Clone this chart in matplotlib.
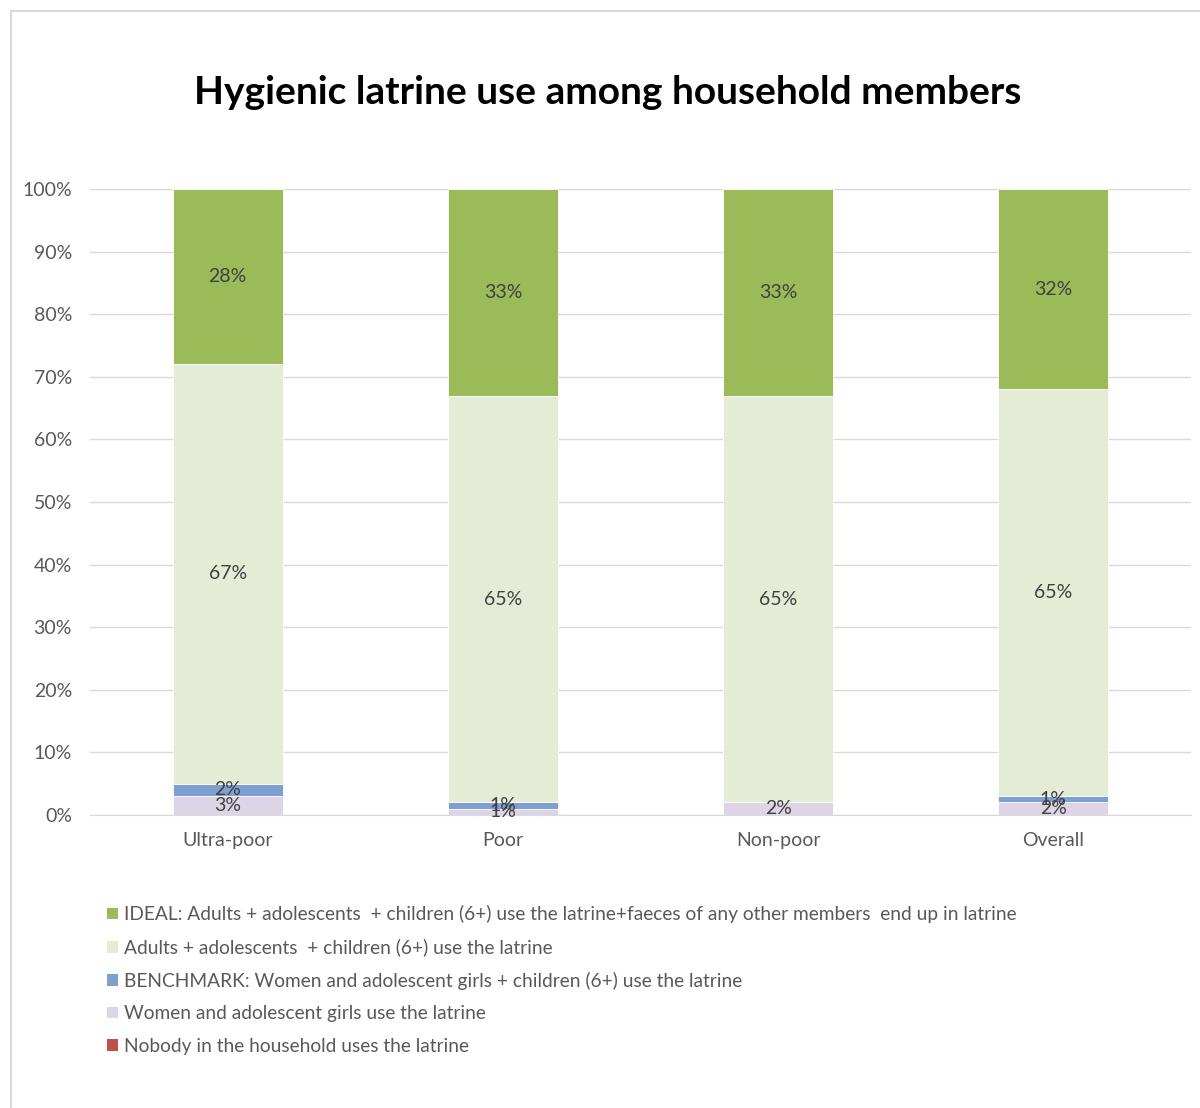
import numpy as np
import matplotlib
matplotlib.use("Agg")
import matplotlib.pyplot as plt
from matplotlib.lines import Line2D
from matplotlib.patches import Patch

# Household wealth groups and share of each latrine-use level (%)
groups = ["Ultra-poor", "Poor", "Non-poor", "Overall"]
nobody = [0, 0, 0, 0]
women_girls = [3, 1, 2, 2]
benchmark = [2, 1, 0, 1]
adults_all = [67, 65, 65, 65]
ideal = [28, 33, 33, 32]

series_names = [
    "Nobody in the household uses the latrine",
    "Women and adolescent girls use the latrine",
    "BENCHMARK: Women and adolescent girls + children (6+) use the latrine",
    "Adults + adolescents  + children (6+) use the latrine",
    "IDEAL: Adults + adolescents  + children (6+) use the latrine+faeces of any other members  end up in latrine",
]
series_values = [nobody, women_girls, benchmark, adults_all, ideal]
colours = ["#C0504D", "#DDD5E6", "#7F9FD0", "#E4ECD5", "#9BBB59"]

plt.rcParams["font.family"] = ["Lato", "DejaVu Sans"]

fig = plt.figure(figsize=(12, 11.08), dpi=100)
ax = fig.add_axes([90 / 1200, 1 - 815 / 1108, 1101 / 1200, 626 / 1108])

x = np.arange(len(groups))
bottom = np.zeros(len(groups))
for name, vals, col in zip(series_names, series_values, colours):
    vals = np.array(vals, dtype=float)
    ax.bar(x, vals, width=0.4, bottom=bottom, color=col, zorder=2,
           edgecolor="white", linewidth=0.6)
    for xi, b, v in zip(x, bottom, vals):
        if v > 0:
            ax.text(xi, b + v / 2, f"{v:.0f}%", ha="center", va="center",
                    fontsize=14, color="#404040", zorder=3)
    bottom += vals

ax.set_xlim(-0.5, 3.5)
ax.set_ylim(0, 100)
ax.set_yticks(np.arange(0, 101, 10))
ax.set_yticklabels([f"{t}%" for t in range(0, 101, 10)])
ax.set_xticks(x)
ax.set_xticklabels(groups)
ax.tick_params(axis="both", length=0, labelsize=14, colors="#595959")
ax.tick_params(axis="y", pad=13)
ax.tick_params(axis="x", pad=12)
ax.yaxis.grid(True, color="#D9D9D9", linewidth=1, zorder=0)
ax.set_axisbelow(True)
for s in ["top", "right", "left"]:
    ax.spines[s].set_visible(False)
ax.spines["bottom"].set_color("#D9D9D9")

fig.text(608 / 1200, 1 - 93 / 1108, "Hygienic latrine use among household members",
         ha="center", va="center", fontsize=28, fontweight="bold", color="black")

# legend, listed top series first
handles = [Patch(facecolor=c, edgecolor="none") for c in colours][::-1]
labels = series_names[::-1]
fig.legend(handles, labels, loc="upper left", bbox_to_anchor=(90 / 1200, 1 - 888 / 1108),
           frameon=False, fontsize=13.8, labelcolor="#595959", handlelength=0.55,
           handleheight=0.55, handletextpad=0.3, labelspacing=0.8)

# chart border
fig.add_artist(Line2D([11 / 1200, 1], [1 - 11 / 1108, 1 - 11 / 1108], color="#D9D9D9", lw=1.5))
fig.add_artist(Line2D([11 / 1200, 11 / 1200], [0, 1 - 11 / 1108], color="#D9D9D9", lw=1.5))

fig.savefig("out.png", dpi=100)
